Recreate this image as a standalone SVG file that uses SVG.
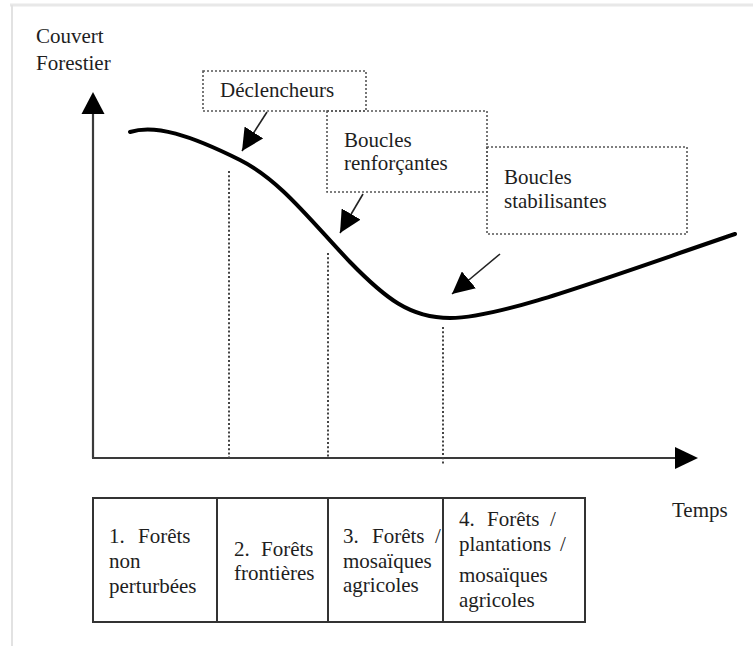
<svg xmlns="http://www.w3.org/2000/svg" width="753" height="646" viewBox="0 0 753 646">
  <style>
    text { font-family: "Liberation Serif", "DejaVu Serif", serif; font-size: 21px; fill: #1e1e1e; }
    .axis { stroke: #3a3a3a; stroke-width: 2.2; fill: none; }
    .guide { stroke: #444; stroke-width: 2; stroke-dasharray: 2 2.2; fill: none; }
    .box { stroke: #555; stroke-width: 1.6; stroke-dasharray: 2 2; fill: none; }
    .curve { stroke: #000; stroke-width: 4; fill: none; stroke-linecap: round; }
    .ptr { stroke: #222; stroke-width: 1.6; fill: none; }
    .cell { stroke: #333; stroke-width: 2; fill: none; }
  </style>
  <defs>
    <marker id="head" viewBox="0 0 10 10" refX="10" refY="5" markerWidth="22" markerHeight="22" markerUnits="userSpaceOnUse" orient="auto">
      <path d="M0,0 L10,5 L0,10 z" fill="#000"/>
    </marker>
  </defs>

  <rect width="753" height="646" fill="#fff"/>
  <!-- page edge -->
  <line x1="10" y1="5" x2="753" y2="5" stroke="#e8e8e8" stroke-width="3"/>
  <line x1="12" y1="5" x2="12" y2="646" stroke="#e2e2e2" stroke-width="2"/>

  <!-- axes -->
  <g id="axes">
    <line class="axis" x1="93" y1="458" x2="93" y2="110"/>
    <polygon points="93,92 81.5,114 104.5,114" fill="#000"/>
    <line class="axis" x1="92" y1="458" x2="678" y2="458"/>
    <polygon points="698,458 675,447 675,469" fill="#000"/>
    <text x="36" y="43">Couvert</text>
    <text x="36" y="70">Forestier</text>
    <text x="672" y="517">Temps</text>
  </g>

  <!-- phase guides -->
  <g id="guides">
    <line class="guide" x1="229" y1="171" x2="229" y2="458"/>
    <line class="guide" x1="328" y1="253" x2="328" y2="458"/>
    <line class="guide" x1="443" y1="327" x2="443" y2="464"/>
  </g>

  <!-- forest cover trajectory -->
  <path id="trajectory" class="curve" d="M130,132 C155,124 190,135 240,160 C280,180 310,220 350,262 C385,298 410,318 450,318 C500,318 600,280 735,234"/>

  <!-- callouts -->
  <g id="declencheurs">
    <rect class="box" x="203" y="71" width="163" height="40"/>
    <text x="220" y="97">Déclencheurs</text>
  </g>
  <g id="boucles-renforcantes">
    <rect class="box" x="327" y="111" width="160" height="81"/>
    <text x="344" y="147">Boucles</text>
    <text x="344" y="170">renforçantes</text>
  </g>
  <g id="boucles-stabilisantes">
    <rect class="box" x="487" y="147" width="200" height="87"/>
    <text x="504" y="184">Boucles</text>
    <text x="504" y="208">stabilisantes</text>
  </g>

  <g id="connectors">
    <line class="ptr" x1="267" y1="112" x2="242" y2="151" marker-end="url(#head)"/>
    <line class="ptr" x1="363" y1="194" x2="340" y2="233" marker-end="url(#head)"/>
    <line class="ptr" x1="500" y1="254" x2="452" y2="294" marker-end="url(#head)"/>
  </g>

  <!-- phase table -->
  <g id="table">
    <rect class="cell" x="93" y="498" width="492" height="124"/>
    <line class="cell" x1="217" y1="498" x2="217" y2="622"/>
    <line class="cell" x1="328" y1="498" x2="328" y2="622"/>
    <line class="cell" x1="443" y1="498" x2="443" y2="622"/>
  </g>
  <g id="phase-1">
    <text x="109" y="543">1.</text><text x="138" y="543">Forêts</text>
    <text x="109" y="568">non</text>
    <text x="109" y="593">perturbées</text>
  </g>
  <g id="phase-2">
    <text x="234" y="556">2.</text><text x="261" y="556">Forêts</text>
    <text x="234" y="580">frontières</text>
  </g>
  <g id="phase-3">
    <text x="343" y="543">3.</text><text x="372" y="543">Forêts</text><text x="435" y="543">/</text>
    <text x="343" y="568">mosaïques</text>
    <text x="343" y="592">agricoles</text>
  </g>
  <g id="phase-4">
    <text x="459" y="526">4.</text><text x="487" y="526">Forêts</text><text x="550" y="526">/</text>
    <text x="459" y="551">plantations</text><text x="560" y="551">/</text>
    <text x="459" y="582">mosaïques</text>
    <text x="459" y="607">agricoles</text>
  </g>
</svg>
